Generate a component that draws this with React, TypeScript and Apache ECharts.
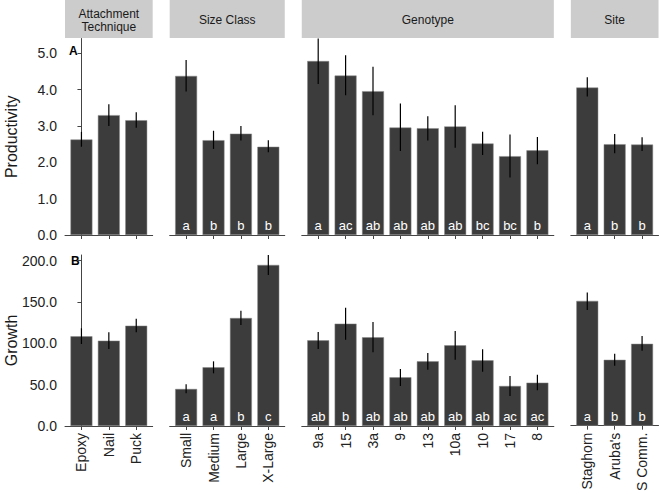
import React, { useEffect, useRef } from "react";
import * as echarts from "echarts";

// Categories
const attachCats = ["Epoxy", "Nail", "Puck"];
const sizeCats = ["Small", "Medium", "Large", "X-Large"];
const genoCats = ["9a", "15", "3a", "9", "13", "10a", "10", "17", "8"];
const siteCats = ["Staghorn", "Aruba's", "S Comm."];
const facetTitles = ["Attachment\nTechnique", "Size Class", "Genotype", "Site"];

// Productivity (row A)
const prodAttach = [2.63, 3.3, 3.16];
const prodAttachLo = [2.43, 3.0, 2.95];
const prodAttachHi = [2.84, 3.6, 3.38];
const prodSize = [4.38, 2.61, 2.79, 2.43];
const prodSizeLo = [3.95, 2.37, 2.6, 2.28];
const prodSizeHi = [4.82, 2.87, 3.0, 2.61];
const prodGeno = [4.79, 4.39, 3.96, 2.96, 2.94, 2.99, 2.52, 2.17, 2.33];
const prodGenoLo = [4.16, 3.85, 3.3, 2.31, 2.6, 2.4, 2.2, 1.58, 1.95];
const prodGenoHi = [5.41, 4.95, 4.63, 3.62, 3.27, 3.57, 2.84, 2.77, 2.7];
const prodSite = [4.06, 2.5, 2.49];
const prodSiteLo = [3.81, 2.25, 2.31];
const prodSiteHi = [4.34, 2.78, 2.69];
const prodSizeLetters = ["a", "b", "b", "b"];
const prodGenoLetters = ["a", "ac", "ab", "ab", "ab", "ab", "bc", "bc", "b"];
const prodSiteLetters = ["a", "b", "b"];
const prodTicks = [0, 1, 2, 3, 4, 5];

// Growth (row B)
const growAttach = [108.5, 103.2, 121.3];
const growAttachLo = [99.2, 93.1, 113.3];
const growAttachHi = [118.2, 113.3, 129.8];
const growSize = [44.8, 71.0, 130.6, 194.8];
const growSizeLo = [39.5, 63.7, 122.2, 182.6];
const growSizeHi = [50.4, 78.2, 139.5, 206.8];
const growGeno = [103.6, 123.8, 107.3, 58.9, 78.2, 97.6, 79.4, 48.4, 52.4];
const growGenoLo = [93.1, 104.4, 89.1, 48.4, 68.1, 80.2, 65.7, 36.3, 43.2];
const growGenoHi = [113.7, 143.1, 125.8, 69.0, 88.3, 114.9, 92.8, 60.5, 62.1];
const growSite = [151.2, 79.8, 99.2];
const growSiteLo = [140.3, 72.6, 90.7];
const growSiteHi = [161.3, 87.1, 108.5];
const growSizeLetters = ["a", "a", "b", "c"];
const growGenoLetters = ["ab", "b", "ab", "ab", "ab", "ab", "ab", "ac", "ac"];
const growSiteLetters = ["a", "b", "b"];
const growTicks = [0, 50, 100, 150, 200];

const FONT = "'Liberation Sans', Arial, Helvetica, sans-serif";

export default function App() {
  const ref = useRef<HTMLDivElement>(null);

  useEffect(() => {
    if (!ref.current) return;
    const chart = echarts.init(ref.current, undefined, { renderer: "svg" });

    const U = 27.4;
    const GAP = 17;
    const LEFT0 = 65;
    const catsList = [attachCats, sizeCats, genoCats, siteCats];
    const lefts: number[] = [];
    const widths: number[] = [];
    let x = LEFT0;
    catsList.forEach((c) => {
      const w = (c.length + 0.2) * U;
      lefts.push(x);
      widths.push(w);
      x += w + GAP;
    });

    const rows = [
      {
        top: 38.5,
        height: 196.5,
        max: 5.41,
        ticks: prodTicks,
        showX: false,
        name: "Productivity",
        tag: "A",
        vals: [prodAttach, prodSize, prodGeno, prodSite],
        los: [prodAttachLo, prodSizeLo, prodGenoLo, prodSiteLo],
        his: [prodAttachHi, prodSizeHi, prodGenoHi, prodSiteHi],
        letters: [null, prodSizeLetters, prodGenoLetters, prodSiteLetters],
      },
      {
        top: 255,
        height: 171,
        max: 206.8,
        ticks: growTicks,
        showX: true,
        name: "Growth",
        tag: "B",
        vals: [growAttach, growSize, growGeno, growSite],
        los: [growAttachLo, growSizeLo, growGenoLo, growSiteLo],
        his: [growAttachHi, growSizeHi, growGenoHi, growSiteHi],
        letters: [null, growSizeLetters, growGenoLetters, growSiteLetters],
      },
    ];

    const grids: any[] = [];
    const xAxes: any[] = [];
    const yAxes: any[] = [];
    const series: any[] = [];
    const graphics: any[] = [];
    const axisColor = "#444";

    rows.forEach((row, r) => {
      catsList.forEach((cats, p) => {
        const g = r * 4 + p;
        const idx = cats.map((_, i) => i);
        grids.push({
          left: lefts[p],
          top: row.top,
          width: widths[p],
          height: row.height,
          containLabel: false,
        });
        xAxes.push({
          gridIndex: g,
          type: "value",
          min: -0.6,
          max: cats.length - 0.4,
          axisLine: { show: true, lineStyle: { color: axisColor, width: 1 } },
          axisTick: {
            show: true,
            customValues: idx,
            length: 4,
            lineStyle: { color: axisColor, width: 1 },
          },
          axisLabel: {
            show: row.showX,
            customValues: idx,
            formatter: (v: number) => cats[Math.round(v)] ?? "",
            rotate: 90,
            margin: 7,
            fontSize: 14,
            color: "#222",
            fontFamily: FONT,
          },
          splitLine: { show: false },
        });
        yAxes.push({
          gridIndex: g,
          type: "value",
          min: 0,
          max: row.max,
          show: p === 0,
          axisLine: { show: true, lineStyle: { color: axisColor, width: 1 } },
          axisTick: {
            show: true,
            customValues: row.ticks,
            length: 4,
            lineStyle: { color: axisColor, width: 1 },
          },
          axisLabel: {
            customValues: row.ticks,
            formatter: (v: number) => v.toFixed(1),
            margin: 8,
            fontSize: 14,
            color: "#222",
            fontFamily: FONT,
          },
          splitLine: { show: false },
        });
        const letters = row.letters[p];
        series.push({
          type: "bar",
          xAxisIndex: g,
          yAxisIndex: g,
          data: row.vals[p].map((v, i) => [i, v]),
          barWidth: 0.8 * U,
          itemStyle: { color: "#3c3c3c", borderColor: "#8a8a8a", borderWidth: 0.5 },
          label: {
            show: !!letters,
            position: "insideBottom",
            distance: 3,
            color: "#ffffff",
            fontSize: 13,
            fontFamily: FONT,
            formatter: (prm: any) => (letters ? letters[prm.dataIndex] : ""),
          },
          silent: true,
        });
        const lo = row.los[p];
        const hi = row.his[p];
        series.push({
          type: "custom",
          xAxisIndex: g,
          yAxisIndex: g,
          data: lo.map((l, i) => [i, l, hi[i]]),
          encode: { x: 0, y: [1, 2] },
          clip: false,
          z: 10,
          silent: true,
          renderItem: (_params: any, api: any) => {
            const a = api.coord([api.value(0), api.value(1)]);
            const b = api.coord([api.value(0), api.value(2)]);
            return {
              type: "line",
              shape: { x1: a[0], y1: a[1], x2: b[0], y2: b[1] },
              style: { stroke: "#000", lineWidth: 1.2 },
            };
          },
        });
      });

      graphics.push({
        type: "text",
        x: 11,
        y: row.top + row.height / 2,
        rotation: Math.PI / 2,
        style: {
          text: row.name,
          fontSize: 16,
          fontFamily: FONT,
          fill: "#1a1a1a",
          align: "center",
          verticalAlign: "middle",
        },
      });
      graphics.push({
        type: "text",
        x: r === 0 ? 69 : 71,
        y: r === 0 ? 51 : 261,
        style: {
          text: row.tag,
          fontSize: 12,
          fontWeight: "bold",
          fontFamily: FONT,
          fill: "#000",
          align: "left",
          verticalAlign: "middle",
        },
      });
    });

    facetTitles.forEach((t, p) => {
      graphics.push({
        type: "rect",
        shape: { x: lefts[p], y: 0, width: widths[p], height: 38 },
        style: { fill: "#cccccc" },
      });
      graphics.push({
        type: "text",
        x: lefts[p] + widths[p] / 2,
        y: 20,
        style: {
          text: t,
          fontSize: 12,
          lineHeight: 13,
          fontFamily: FONT,
          fill: "#1a1a1a",
          align: "center",
          verticalAlign: "middle",
        },
      });
    });

    chart.setOption({
      animation: false,
      backgroundColor: "#ffffff",
      grid: grids,
      xAxis: xAxes,
      yAxis: yAxes,
      series,
      graphic: graphics,
    });

    return () => chart.dispose();
  }, []);

  return (
    <div
      ref={ref}
      style={{ position: "fixed", left: 0, top: 0, width: 660, height: 494 }}
    />
  );
}
